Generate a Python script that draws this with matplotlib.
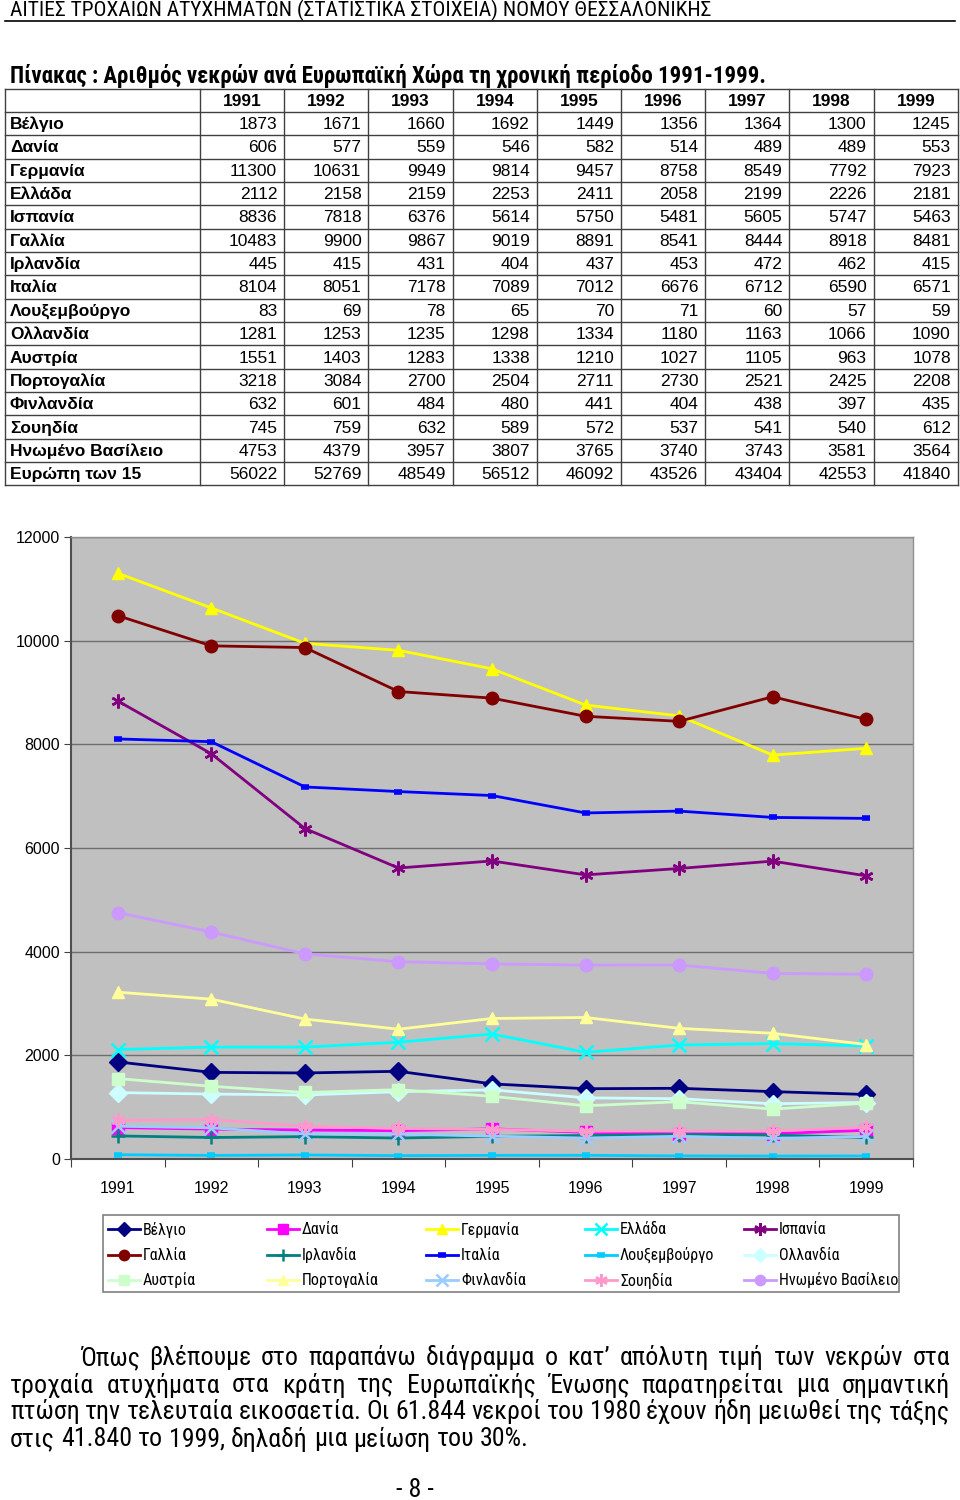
import matplotlib
matplotlib.use("Agg")
import matplotlib.pyplot as plt
from matplotlib import font_manager as fm
from matplotlib.font_manager import FontProperties
from matplotlib.ft2font import FT2Font
from matplotlib.patches import Rectangle

names = {f.name for f in fm.fontManager.ttflist}
SANS = "Liberation Sans" if "Liberation Sans" in names else "DejaVu Sans"
plt.rcParams['font.family'] = [SANS, 'DejaVu Sans']


def has_greek(path):
    try:
        cm = FT2Font(path).get_charmap()
        return all(ord(c) in cm for c in "ΩλώΈϊ’")
    except Exception:
        return False


def find_narrow(bold):
    prio = ["liberation sans narrow", "arial narrow", "roboto condensed", "noto sans",
            "open sans condensed", "open sans", "sofia sans condensed", "pt sans narrow",
            "fira sans condensed", "ubuntu condensed", "sofia sans semi condensed"]
    best = None
    for f in fm.fontManager.ttflist:
        nm = f.name.lower()
        cond = (str(f.stretch) in ("condensed", "semi-condensed", "extra-condensed")
                or "narrow" in nm or "condensed" in nm or "condensed" in f.fname.lower())
        if not cond or f.style != "normal":
            continue
        w = f.weight if isinstance(f.weight, int) else (700 if "bold" in str(f.weight) else 400)
        if bold and w < 600:
            continue
        if not bold and not (350 <= w <= 450):
            continue
        if "mono" in nm or "serif" in nm:
            continue
        if not has_greek(f.fname):
            continue
        score = prio.index(nm) if nm in prio else len(prio)
        score = score * 1000 + abs(w - (700 if bold else 400))
        if best is None or score < best[0]:
            best = (score, f.fname)
    if best is None:
        return FontProperties(family=SANS, weight="bold" if bold else "normal")
    return FontProperties(fname=best[1])


NARROW = find_narrow(False)
NARROW_B = find_narrow(True)

# ---------------- data ----------------
years = ["1991", "1992", "1993", "1994", "1995", "1996", "1997", "1998", "1999"]
countries = ["Βέλγιο", "Δανία", "Γερμανία", "Ελλάδα", "Ισπανία", "Γαλλία", "Ιρλανδία",
             "Ιταλία", "Λουξεμβούργο", "Ολλανδία", "Αυστρία", "Πορτογαλία",
             "Φινλανδία", "Σουηδία", "Ηνωμένο Βασίλειο"]
total_label = "Ευρώπη των 15"

belgio = [1873, 1671, 1660, 1692, 1449, 1356, 1364, 1300, 1245]
dania = [606, 577, 559, 546, 582, 514, 489, 489, 553]
germania = [11300, 10631, 9949, 9814, 9457, 8758, 8549, 7792, 7923]
ellada = [2112, 2158, 2159, 2253, 2411, 2058, 2199, 2226, 2181]
ispania = [8836, 7818, 6376, 5614, 5750, 5481, 5605, 5747, 5463]
gallia = [10483, 9900, 9867, 9019, 8891, 8541, 8444, 8918, 8481]
irlandia = [445, 415, 431, 404, 437, 453, 472, 462, 415]
italia = [8104, 8051, 7178, 7089, 7012, 6676, 6712, 6590, 6571]
louxemvourgo = [83, 69, 78, 65, 70, 71, 60, 57, 59]
ollandia = [1281, 1253, 1235, 1298, 1334, 1180, 1163, 1066, 1090]
afstria = [1551, 1403, 1283, 1338, 1210, 1027, 1105, 963, 1078]
portogalia = [3218, 3084, 2700, 2504, 2711, 2730, 2521, 2425, 2208]
finlandia = [632, 601, 484, 480, 441, 404, 438, 397, 435]
souidia = [745, 759, 632, 589, 572, 537, 541, 540, 612]
hv = [4753, 4379, 3957, 3807, 3765, 3740, 3743, 3581, 3564]
europe15 = [56022, 52769, 48549, 56512, 46092, 43526, 43404, 42553, 41840]

series = [belgio, dania, germania, ellada, ispania, gallia, irlandia, italia,
          louxemvourgo, ollandia, afstria, portogalia, finlandia, souidia, hv]

colors = ["#000080", "#FF00FF", "#FFFF00", "#00FFFF", "#800080", "#800000", "#008080",
          "#0000FF", "#00CCFF", "#CCFFFF", "#CCFFCC", "#FFFF99", "#99CCFF", "#FF99CC", "#CC99FF"]
STAR = (6, 2, 0)
markers = ["D", "s", "^", "x", STAR, "o", "+", "_", "_", "D", "s", "^", "x", STAR, "o"]


def marker_kw(c, m, big=True):
    kw = dict(color=c, lw=2, marker=m, markersize=9 if big else 7.5,
              markerfacecolor=c, markeredgecolor=c)
    if m in ("x", "+", STAR):
        kw.update(markeredgewidth=1.8, markersize=10 if big else 9)
    if m == "_":
        kw.update(markeredgewidth=4, markersize=6)
    return kw


# ---------------- figure ----------------
W, H = 960, 1500
fig = plt.figure(figsize=(W / 100, H / 100), dpi=100)
page = fig.add_axes([0, 0, 1, 1])
page.set_xlim(0, W)
page.set_ylim(H, 0)
page.axis("off")
fig.canvas.draw()
renderer = fig.canvas.get_renderer()


def fit_text(x, y, s, fp, target_w, **kw):
    """Place text whose font size makes it span target_w pixels."""
    fp = fp.copy()
    fp.set_size(12)
    t = page.text(x, y, s, fontproperties=fp, **kw)
    w = t.get_window_extent(renderer).width
    fp.set_size(12 * target_w / w)
    t.set_fontproperties(fp)
    return t, 12 * target_w / w


# header
fit_text(10, 10, "ΑΙΤΙΕΣ ΤΡΟΧΑΙΩΝ ΑΤΥΧΗΜΑΤΩΝ (ΣΤΑΤΙΣΤΙΚΑ ΣΤΟΙΧΕΙΑ) ΝΟΜΟΥ ΘΕΣΣΑΛΟΝΙΚΗΣ",
         NARROW, 700, va="center", ha="left")
page.plot([5, 955], [21, 21], color="black", lw=1.2)
fit_text(10, 76, "Πίνακας : Αριθμός νεκρών ανά Ευρωπαϊκή Χώρα τη χρονική περίοδο 1991-1999.",
         NARROW_B, 755, va="center", ha="left")

# table
row_labels = countries + [total_label]
row_values = series + [europe15]
top, rh = 88.5, 23.35
col0_l, col0_r, cw = 5, 200, 84.2
nrows = 1 + len(row_labels)
bottom = top + nrows * rh
right = col0_r + cw * len(years)
lc = "#404040"
for i in range(nrows + 1):
    page.plot([col0_l, right], [top + i * rh] * 2, color=lc, lw=1)
page.plot([col0_l, col0_l], [top, bottom], color=lc, lw=1)
for j in range(len(years) + 1):
    xx = col0_r + j * cw
    page.plot([xx, xx], [top, bottom], color=lc, lw=1)
for j, yr in enumerate(years):
    page.text(col0_r + (j + 0.5) * cw, top + 0.5 * rh + 1, yr, ha="center", va="center",
              fontsize=12.5, fontweight="bold", family=SANS)
for i, (lab, vals) in enumerate(zip(row_labels, row_values)):
    yc = top + (i + 1.5) * rh + 1
    page.text(10, yc, lab, ha="left", va="center", fontsize=12.5, fontweight="bold", family=SANS)
    for j, v in enumerate(vals):
        page.text(col0_r + (j + 1) * cw - 7, yc, str(v), ha="right", va="center",
                  fontsize=12.5, family=SANS)

# ---------------- chart ----------------
ax_l, ax_r, ax_t, ax_b = 71, 913, 537, 1159
ax = fig.add_axes([ax_l / W, 1 - ax_b / H, (ax_r - ax_l) / W, (ax_b - ax_t) / H])
ax.set_facecolor("#C0C0C0")
x = list(range(len(years)))
for vals, c, m in zip(series, colors, markers):
    ax.plot(x, vals, **marker_kw(c, m))
ax.set_xlim(-0.5, len(years) - 0.5)
ax.set_ylim(0, 12000)
ax.set_yticks(range(0, 12001, 2000))
ax.set_yticklabels([str(v) for v in range(0, 12001, 2000)], fontsize=11.5)
ax.set_xticks([i - 0.5 for i in range(len(years) + 1)])
ax.set_xticklabels([""] * (len(years) + 1))
ax.set_xticks(x, minor=True)
ax.set_xticklabels(years, minor=True, fontsize=11.5)
ax.tick_params(axis="x", which="minor", length=0, pad=16)
ax.tick_params(axis="x", which="major", length=6, color="#404040", direction="out")
ax.tick_params(axis="y", length=5, color="#404040", direction="out", pad=3)
ax.grid(axis="y", color="#6E6E6E", lw=1)
ax.set_axisbelow(True)
for s in ["top", "right"]:
    ax.spines[s].set_color("#909090")
    ax.spines[s].set_linewidth(1)
for s in ["left", "bottom"]:
    ax.spines[s].set_color("#505050")
    ax.spines[s].set_linewidth(1.5)

# ---------------- legend (drawn in page pixel coords) ----------------
leg_l, leg_r, leg_t, leg_b = 103, 899, 1215, 1292
page.add_patch(Rectangle((leg_l, leg_t), leg_r - leg_l, leg_b - leg_t, fill=False,
                         edgecolor="#808080", lw=1.2))
ncol = 5
col_x0, col_step, row_y0, row_step = 108, 159, 1229, 25.5
legfp = NARROW.copy()
legfp.set_size(11.5)
for k, (c, m, lab) in enumerate(zip(colors, markers, countries)):
    r, cc = divmod(k, ncol)
    lx = col_x0 + cc * col_step
    ly = row_y0 + r * row_step
    page.plot([lx, lx + 16, lx + 32], [ly, ly, ly], markevery=[1], **marker_kw(c, m, big=False))
    page.text(lx + 35, ly + 0.5, lab, fontproperties=legfp, va="center", ha="left")

# ---------------- paragraph (justified) ----------------
para_lines = [
    "Όπως βλέπουμε στο παραπάνω διάγραμμα ο κατ’ απόλυτη τιμή των νεκρών στα",
    "τροχαία ατυχήματα στα κράτη της Ευρωπαϊκής Ένωσης παρατηρείται μια σημαντική",
    "πτώση την τελευταία εικοσαετία. Οι 61.844 νεκροί του 1980 έχουν ήδη μειωθεί της τάξης",
    "στις 41.840 το 1999, δηλαδή μια μείωση του 30%.",
]
ys = [1358, 1385, 1412, 1439]
# calibrate paragraph size from the last (unjustified) line's width
cal, PFS = fit_text(0, 0, para_lines[-1], NARROW, 517, va="center", ha="left")
cal.remove()
pfp = NARROW.copy()
pfp.set_size(PFS)
for li, (line, yy) in enumerate(zip(para_lines, ys)):
    words = line.split(" ")
    x0 = 80 if li == 0 else 10
    x1 = 950
    texts = [page.text(0, yy, w, fontproperties=pfp, va="center", ha="left") for w in words]
    widths = [t.get_window_extent(renderer).width for t in texts]
    if li < len(para_lines) - 1:
        gap = (x1 - x0 - sum(widths)) / (len(words) - 1)
    else:
        sp = page.text(0, 0, "a a", fontproperties=pfp)
        sp2 = page.text(0, 0, "aa", fontproperties=pfp)
        gap = sp.get_window_extent(renderer).width - sp2.get_window_extent(renderer).width
        sp.remove()
        sp2.remove()
    cur = x0
    for t, wdt in zip(texts, widths):
        t.set_x(cur)
        cur += wdt + gap

page.text(415, 1490, "- 8 -", fontproperties=pfp, va="center", ha="center")

fig.savefig("out.png", dpi=100)
